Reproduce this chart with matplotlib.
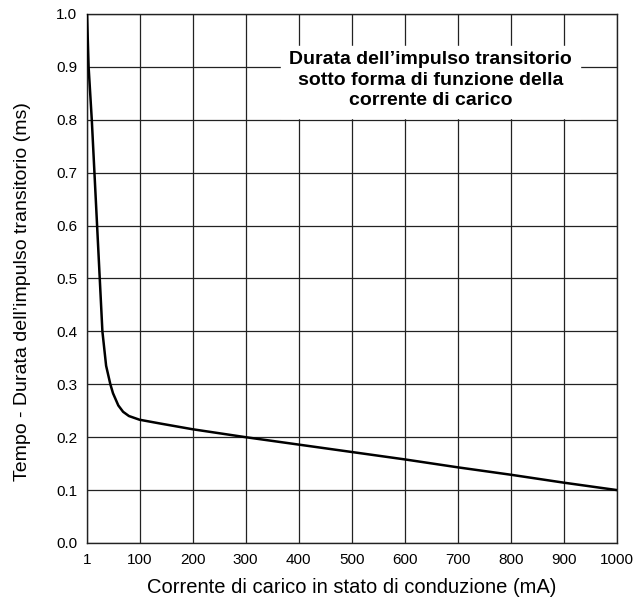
import matplotlib.pyplot as plt
from matplotlib import font_manager

# data
current_ma = [1, 4, 10, 15, 20, 25, 30, 37, 45, 50, 60, 69, 80, 100, 138,
              200, 300, 400, 500, 600, 700, 800, 900, 1000]
duration_ms = [1.0, 0.9, 0.8, 0.7, 0.6, 0.5, 0.4, 0.335, 0.3, 0.283, 0.26,
               0.248, 0.24, 0.233, 0.226, 0.215, 0.2, 0.186, 0.172, 0.158,
               0.143, 0.129, 0.114, 0.1]
x_ticks = [1, 100, 200, 300, 400, 500, 600, 700, 800, 900, 1000]
y_ticks = [0.0, 0.1, 0.2, 0.3, 0.4, 0.5, 0.6, 0.7, 0.8, 0.9, 1.0]

names = {f.name for f in font_manager.fontManager.ttflist}
family = ["Liberation Sans Narrow"] if "Liberation Sans Narrow" in names else ["Liberation Sans"]
plt.rcParams["font.family"] = family + ["DejaVu Sans"]

fig = plt.figure(figsize=(6.37, 6.05), dpi=100)
ax = fig.add_axes([0.1366, 0.1025, 0.8320, 0.8744])

ax.set_xlim(1, 1000)
ax.set_ylim(0, 1.0)
ax.set_xticks(x_ticks)
ax.set_yticks(y_ticks)
ax.set_yticklabels([f"{v:.1f}" for v in y_ticks])
ax.tick_params(length=0, labelsize=11, pad=7)
ax.grid(True, color="#222222", linewidth=0.9)
ax.set_axisbelow(True)
for s in ax.spines.values():
    s.set_linewidth(1.0)
    s.set_color("#222222")

ax.plot(current_ma, duration_ms, color="black", linewidth=1.8, zorder=3)

# white title box inside the grid
ax.fill_between([366, 930], 0.803, 0.94, color="white", zorder=2)
ax.text(648, 0.875, "Durata dell\u2019impulso transitorio\nsotto forma di funzione della\ncorrente di carico",
        ha="center", va="center", fontsize=14, fontweight="bold",
        linespacing=1.25, zorder=4)

ax.set_xlabel("Corrente di carico in stato di conduzione (mA)", fontsize=14.5)
ax.xaxis.set_label_coords(0.5, -0.066)
ax.set_ylabel("Tempo - Durata dell\u2019impulso transitorio (ms)", fontsize=14)
ax.yaxis.set_label_coords(-0.106, 0.475)

fig.savefig("out.png", dpi=100)
